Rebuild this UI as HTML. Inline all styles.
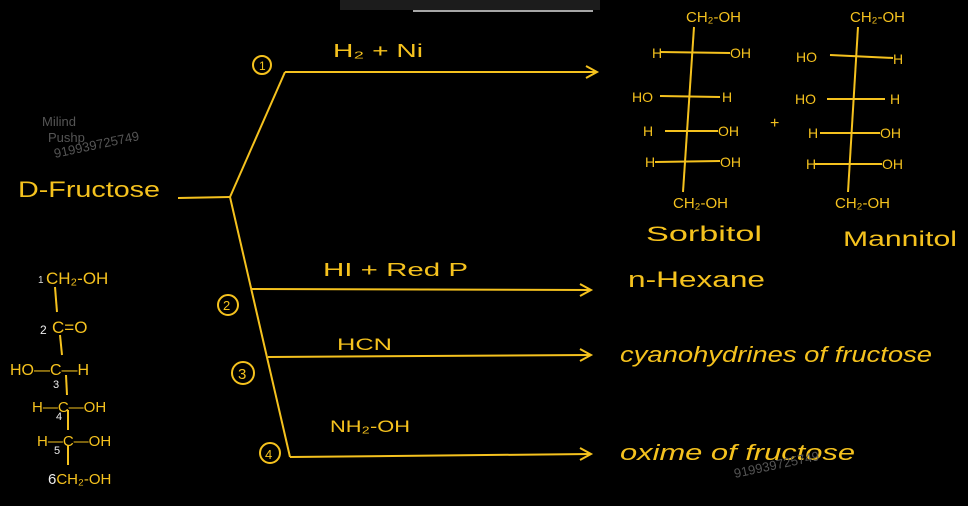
<!DOCTYPE html>
<html><head><meta charset="utf-8"><style>
html,body{margin:0;padding:0;background:#000;}
svg{display:block;}
text{font-family:"Liberation Sans",sans-serif;fill:#f5c21e;}
</style></head><body>
<svg width="968" height="506" viewBox="0 0 968 506">
<rect x="340" y="0" width="260" height="10" fill="#1c1c1c"/>
<line x1="413" y1="11" x2="593" y2="11" stroke="#ddd" stroke-width="1.5"/>
<g stroke="#f5c21e" stroke-width="2" fill="none">
<line x1="178" y1="198" x2="230" y2="197"/>
<line x1="230" y1="197" x2="285" y2="72"/>
<line x1="285" y1="72" x2="596" y2="72"/>
<polyline points="586,66 597,72 586,78"/>
<line x1="230" y1="197" x2="290" y2="457"/>
<line x1="251" y1="289" x2="590" y2="290"/>
<polyline points="580,284 591,290 580,296"/>
<line x1="268" y1="357" x2="590" y2="355"/>
<polyline points="580,349 591,355 580,361"/>
<line x1="290" y1="457" x2="590" y2="454"/>
<polyline points="580,448 591,454 580,460"/>
<circle cx="262" cy="65" r="9"/>
<circle cx="228" cy="305" r="10"/>
<circle cx="243" cy="373" r="11"/>
<circle cx="270" cy="453" r="10"/>
<line x1="694" y1="27" x2="683" y2="192"/>
<line x1="660" y1="52" x2="730" y2="53"/>
<line x1="660" y1="96" x2="720" y2="97"/>
<line x1="665" y1="131" x2="718" y2="131"/>
<line x1="655" y1="162" x2="720" y2="161"/>
<line x1="858" y1="27" x2="848" y2="192"/>
<line x1="830" y1="55" x2="893" y2="58"/>
<line x1="827" y1="99" x2="885" y2="99"/>
<line x1="820" y1="133" x2="880" y2="133"/>
<line x1="815" y1="164" x2="882" y2="164"/>
<line x1="55" y1="287" x2="57" y2="312"/>
<line x1="60" y1="335" x2="62" y2="355"/>
<line x1="66" y1="375" x2="67" y2="395"/>
<line x1="68" y1="410" x2="68" y2="430"/>
<line x1="68" y1="445" x2="68" y2="465"/>
</g>
<g>
<text x="259" y="70" font-size="12">1</text>
<text x="223" y="310" font-size="13">2</text>
<text x="238" y="379" font-size="15">3</text>
<text x="265" y="459" font-size="13">4</text>
<text x="18" y="197" font-size="22" textLength="142" lengthAdjust="spacingAndGlyphs">D-Fructose</text>
<text x="333" y="57" font-size="18" textLength="90" lengthAdjust="spacingAndGlyphs">H₂ + Ni</text>
<text x="323" y="276" font-size="18" textLength="145" lengthAdjust="spacingAndGlyphs">HI + Red P</text>
<text x="337" y="350" font-size="17" textLength="55" lengthAdjust="spacingAndGlyphs">HCN</text>
<text x="330" y="432" font-size="17" textLength="80" lengthAdjust="spacingAndGlyphs">NH₂-OH</text>
<text x="628" y="287" font-size="22" textLength="137" lengthAdjust="spacingAndGlyphs">n-Hexane</text>
<text x="620" y="362" font-size="22" font-style="italic" textLength="312" lengthAdjust="spacingAndGlyphs">cyanohydrines of fructose</text>
<text x="620" y="460" font-size="22" font-style="italic" textLength="235" lengthAdjust="spacingAndGlyphs">oxime of fructose</text>
<text x="686" y="22" font-size="15">CH₂-OH</text>
<text x="652" y="58" font-size="14">H</text><text x="730" y="58" font-size="14">OH</text>
<text x="632" y="102" font-size="14">HO</text><text x="722" y="102" font-size="14">H</text>
<text x="643" y="136" font-size="14">H</text><text x="718" y="136" font-size="14">OH</text>
<text x="645" y="167" font-size="14">H</text><text x="720" y="167" font-size="14">OH</text>
<text x="673" y="208" font-size="15">CH₂-OH</text>
<text x="646" y="241" font-size="21" textLength="116" lengthAdjust="spacingAndGlyphs">Sorbitol</text>
<text x="770" y="128" font-size="16">+</text>
<text x="850" y="22" font-size="15">CH₂-OH</text>
<text x="796" y="62" font-size="14">HO</text><text x="893" y="64" font-size="14">H</text>
<text x="795" y="104" font-size="14">HO</text><text x="890" y="104" font-size="14">H</text>
<text x="808" y="138" font-size="14">H</text><text x="880" y="138" font-size="14">OH</text>
<text x="806" y="169" font-size="14">H</text><text x="882" y="169" font-size="14">OH</text>
<text x="835" y="208" font-size="15">CH₂-OH</text>
<text x="843" y="246" font-size="21" textLength="114" lengthAdjust="spacingAndGlyphs">Mannitol</text>
<text x="38" y="283" font-size="10" style="fill:#ddd">1</text>
<text x="46" y="284" font-size="17">CH₂-OH</text>
<text x="40" y="334" font-size="12" style="fill:#eee">2</text>
<text x="52" y="333" font-size="17">C=O</text>
<text x="10" y="375" font-size="16">HO—C—H</text>
<text x="53" y="388" font-size="11" style="fill:#eee">3</text>
<text x="32" y="412" font-size="15">H—C—OH</text>
<text x="56" y="420" font-size="11" style="fill:#eee">4</text>
<text x="37" y="446" font-size="15">H—C—OH</text>
<text x="54" y="454" font-size="11" style="fill:#eee">5</text>
<text x="48" y="484" font-size="15"><tspan style="fill:#eee">6</tspan>CH₂-OH</text>
<text x="42" y="126" font-size="13" style="fill:#555">Milind</text>
<text x="48" y="142" font-size="13" style="fill:#555">Pushp</text>
<text x="55" y="158" font-size="13" style="fill:#555" transform="rotate(-12 55 158)">919939725749</text>
<text x="735" y="478" font-size="13" style="fill:#555" transform="rotate(-12 735 478)">919939725749</text>
</g>
</svg>
</body></html>
